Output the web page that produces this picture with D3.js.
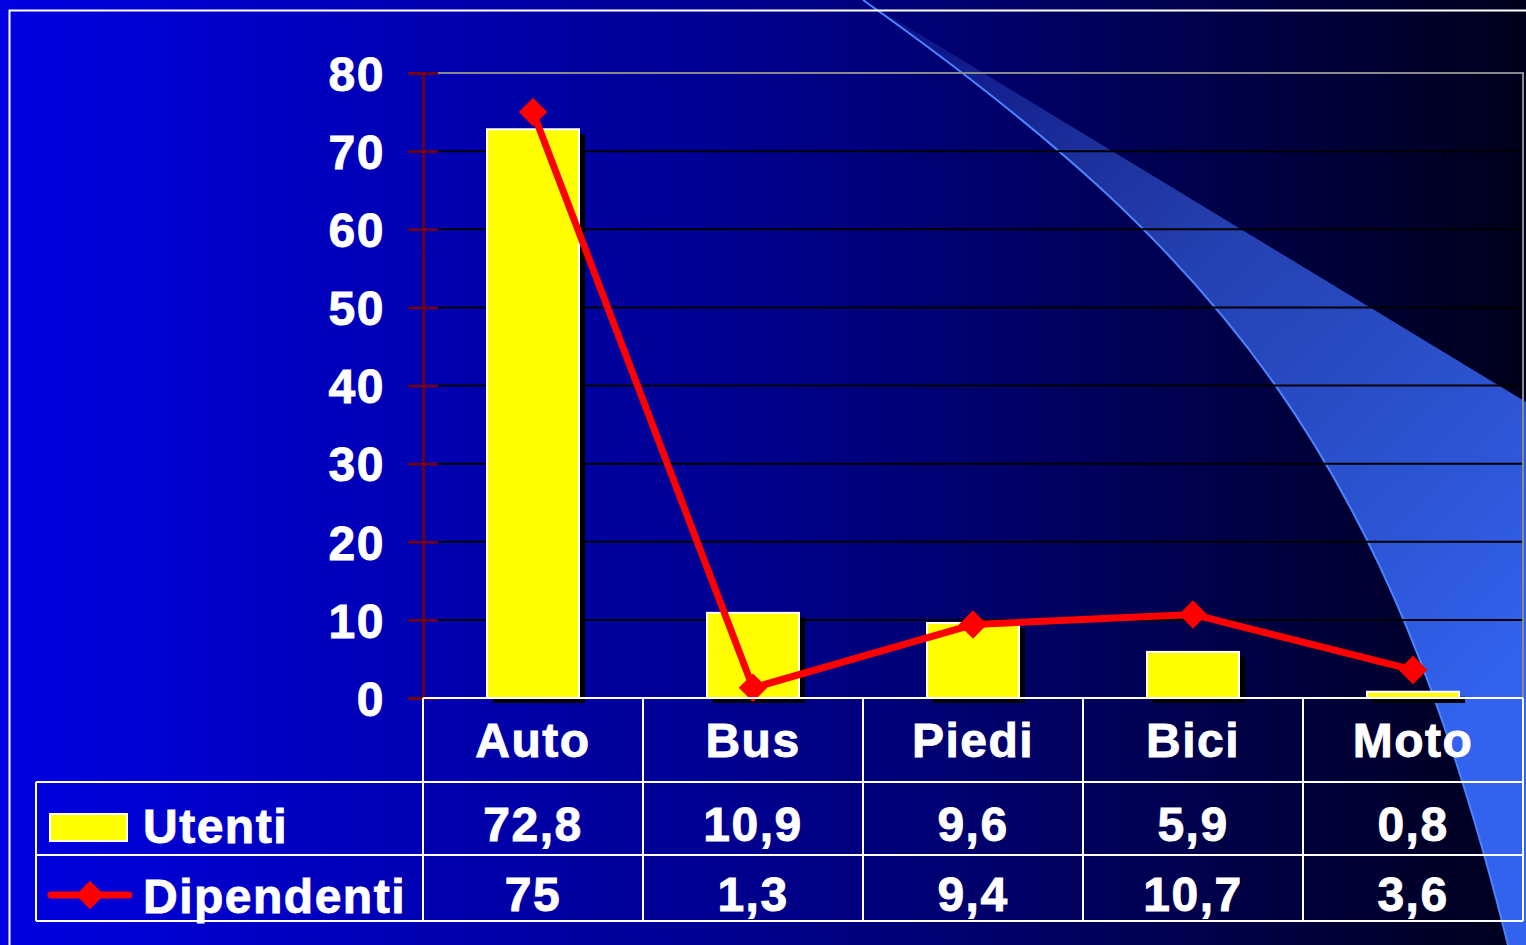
<!DOCTYPE html>
<html>
<head>
<meta charset="utf-8">
<script src="https://cdn.jsdelivr.net/npm/d3@7"></script>
<style>
  html, body { margin: 0; padding: 0; background: #000040; overflow: hidden; }
  text { font-family: "Liberation Sans", Arial, sans-serif; font-weight: bold; fill: #fff; stroke: #fff; stroke-width: 0.9px; letter-spacing: 1.5px; }
</style>
</head>
<body>
<svg id="chart"></svg>
<script>
// dati del grafico
const categorie = ["Auto", "Bus", "Piedi", "Bici", "Moto"];
const utenti = [72.8, 10.9, 9.6, 5.9, 0.8];
const dipendenti = [75, 1.3, 9.4, 10.7, 3.6];
const etichetteUtenti = ["72,8", "10,9", "9,6", "5,9", "0,8"];
const etichetteDipendenti = ["75", "1,3", "9,4", "10,7", "3,6"];
const yTicks = [0, 10, 20, 30, 40, 50, 60, 70, 80];

const W = 1526, H = 945;
const svg = d3.select("#chart").attr("width", W).attr("height", H);
const defs = svg.append("defs");

// sfondo sfumato blu -> nero
const bg = defs.append("linearGradient").attr("id", "bg")
  .attr("x1", 0).attr("x2", 1).attr("y1", 0).attr("y2", 0);
bg.append("stop").attr("offset", 0).attr("stop-color", "#0000e2");
bg.append("stop").attr("offset", 0.5).attr("stop-color", "#00008c");
bg.append("stop").attr("offset", 1).attr("stop-color", "#00001c");
svg.append("rect").attr("width", W).attr("height", H).attr("fill", "url(#bg)");

// fascia decorativa a destra
const sw = defs.append("linearGradient").attr("id", "sw")
  .attr("gradientUnits", "userSpaceOnUse")
  .attr("x1", 880).attr("y1", 0).attr("x2", 1526).attr("y2", 650);
sw.append("stop").attr("offset", 0).attr("stop-color", "#3a5ad0").attr("stop-opacity", 0.15);
sw.append("stop").attr("offset", 0.45).attr("stop-color", "#2a4cc4").attr("stop-opacity", 0.85);
sw.append("stop").attr("offset", 1).attr("stop-color", "#3262ee").attr("stop-opacity", 1);

const curva = d3.path();
curva.moveTo(1508, 945);
curva.bezierCurveTo(1386, 455, 1223, 255, 863, 0);
const fascia = d3.path();
fascia.moveTo(863, 0);
fascia.lineTo(1526, 402);
fascia.lineTo(1526, 945);
fascia.lineTo(1508, 945);
fascia.bezierCurveTo(1386, 455, 1223, 255, 863, 0);
fascia.closePath();
svg.append("path").attr("d", fascia.toString()).attr("fill", "url(#sw)");
svg.append("path").attr("d", curva.toString()).attr("fill", "none")
  .attr("stroke", "#4a84ff").attr("stroke-width", 2);

// cornice bianca
svg.append("rect").attr("x", 9.5).attr("y", 10.5).attr("width", W + 20).attr("height", H + 20)
  .attr("fill", "none").attr("stroke", "#fff").attr("stroke-width", 2);

// scale
const x = d3.scaleBand().domain(categorie).range([423, 1523]).paddingInner(0).paddingOuter(0);
const y = d3.scaleLinear().domain([0, 80]).range([698, 73]);
const bw = 92;
const cx = c => x(c) + x.bandwidth() / 2;

// griglia
svg.append("g").selectAll("line").data(yTicks.filter(d => d > 0 && d < 80)).join("line")
  .attr("x1", 438).attr("x2", 1523)
  .attr("y1", d => y(d)).attr("y2", d => y(d))
  .attr("stroke", "#000").attr("stroke-width", 2);
// bordo area
svg.append("path")
  .attr("d", `M438,${y(80)}H1523V${y(0)}`)
  .attr("fill", "none").attr("stroke", "#8a8a8a").attr("stroke-width", 2);

// asse y
const ax = svg.append("g").attr("transform", "translate(423,0)")
  .call(d3.axisLeft(y).tickValues(yTicks).tickSize(15).tickPadding(0));
ax.select(".domain").attr("stroke", "#7a0000").attr("stroke-width", 2.5);
ax.selectAll(".tick line").attr("x1", -15).attr("x2", 15)
  .attr("stroke", "#7a0000").attr("stroke-width", 2.5);
ax.selectAll(".tick text").attr("x", -38).attr("dy", "0.36em")
  .attr("fill", "#fff").style("font-size", "48px").style("font-family", "Liberation Sans, Arial, sans-serif")
  .style("font-weight", "bold");

// barre con ombra
const barre = svg.append("g");
barre.selectAll(".ombra").data(utenti).join("rect").attr("class", "ombra")
  .attr("x", (d, i) => cx(categorie[i]) - bw / 2 + 6)
  .attr("y", d => y(d) + 5)
  .attr("width", bw).attr("height", d => y(0) - y(d))
  .attr("fill", "#000");
barre.selectAll(".barra").data(utenti).join("rect").attr("class", "barra")
  .attr("x", (d, i) => cx(categorie[i]) - bw / 2)
  .attr("y", d => y(d))
  .attr("width", bw).attr("height", d => y(0) - y(d))
  .attr("fill", "#ffff00").attr("stroke", "#fff").attr("stroke-width", 2);

// linea dipendenti
const linea = d3.line()
  .x((d, i) => cx(categorie[i]))
  .y(d => y(d));
svg.append("path").datum(dipendenti)
  .attr("d", linea)
  .attr("fill", "none").attr("stroke", "#ff0000").attr("stroke-width", 7)
  .attr("stroke-linejoin", "round");
const diamante = d3.symbol().type(d3.symbolDiamond2).size(520);
svg.append("g").selectAll("path").data(dipendenti).join("path")
  .attr("d", diamante)
  .attr("transform", (d, i) => `translate(${cx(categorie[i])},${y(d)})`)
  .attr("fill", "#ff0000");

// tabella dati
const tab = svg.append("g").attr("stroke", "#fff").attr("stroke-width", 2).attr("fill", "none");
const righe = [698, 782, 855, 921];
tab.append("line").attr("x1", 423).attr("x2", 1523).attr("y1", righe[0]).attr("y2", righe[0]);
righe.slice(1).forEach(r => {
  tab.append("line").attr("x1", 36).attr("x2", 1523).attr("y1", r).attr("y2", r);
});
tab.append("line").attr("x1", 36).attr("x2", 36).attr("y1", righe[1]).attr("y2", righe[3]);
x.domain().forEach(c => {
  tab.append("line").attr("x1", x(c)).attr("x2", x(c)).attr("y1", righe[0]).attr("y2", righe[3]);
});
tab.append("line").attr("x1", 1523).attr("x2", 1523).attr("y1", righe[0]).attr("y2", righe[3]);

const testo = svg.append("g").style("font-size", "48px").attr("text-anchor", "middle");
testo.selectAll(".cat").data(categorie).join("text").attr("class", "cat")
  .attr("x", d => cx(d)).attr("y", 757).text(d => d);
testo.selectAll(".ut").data(etichetteUtenti).join("text").attr("class", "ut")
  .attr("x", (d, i) => cx(categorie[i])).attr("y", 841).text(d => d);
testo.selectAll(".dip").data(etichetteDipendenti).join("text").attr("class", "dip")
  .attr("x", (d, i) => cx(categorie[i])).attr("y", 911).text(d => d);

// legenda
svg.append("rect").attr("x", 50).attr("y", 814).attr("width", 77).attr("height", 27)
  .attr("fill", "#ffff00").attr("stroke", "#fff").attr("stroke-width", 2);
svg.append("text").attr("x", 143).attr("y", 843).style("font-size", "48px").text("Utenti");
svg.append("line").attr("x1", 51).attr("x2", 129).attr("y1", 895).attr("y2", 895)
  .attr("stroke", "#ff0000").attr("stroke-width", 7).attr("stroke-linecap", "round");
svg.append("path").attr("d", diamante).attr("transform", "translate(90,895)").attr("fill", "#ff0000");
svg.append("text").attr("x", 143).attr("y", 913).style("font-size", "48px").text("Dipendenti");
</script>
</body>
</html>
